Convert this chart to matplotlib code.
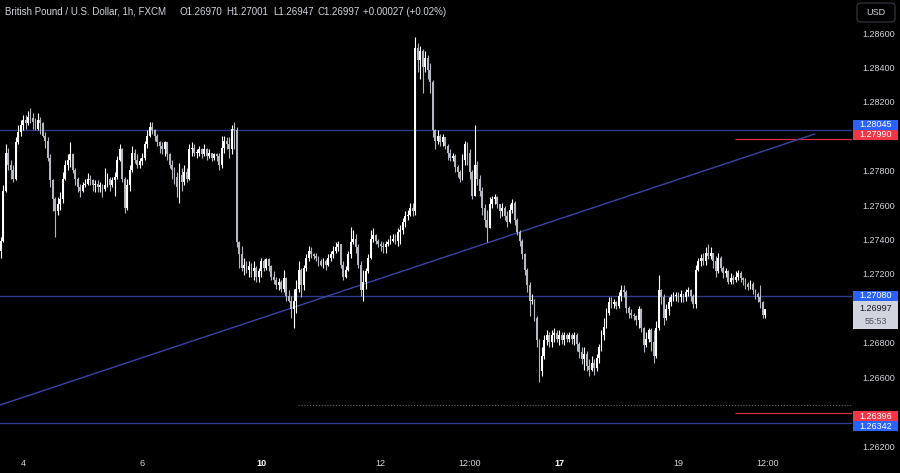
import numpy as np
import matplotlib
matplotlib.use("Agg")
import matplotlib.pyplot as plt
from matplotlib.patches import Rectangle, FancyBboxPatch
from matplotlib.transforms import blended_transform_factory

# ---------------- data (prices in pips above PIP_BASE) ----------------
PIP_BASE = 1.26
first_open_pips = 134
close_pips = [
    140,169,191,184,181,176,197,203,207,210,
    208,212,211,209,205,210,208,201,198,188,
    175,164,157,161,164,176,184,187,190,181,
    176,171,169,172,173,176,175,172,173,171,
    172,170,172,176,172,175,177,187,193,176,
    159,172,181,191,187,184,186,188,196,201,
    206,204,201,197,195,193,197,190,184,181,
    177,171,178,174,180,176,193,194,191,191,
    193,190,193,189,191,188,190,189,184,194,
    198,196,193,205,204,139,132,124,126,123,
    125,122,124,119,122,128,124,129,125,119,
    117,114,116,112,118,108,105,100,105,112,
    123,114,124,130,134,132,131,130,128,126,
    128,126,130,132,134,136,138,126,119,123,
    132,139,141,136,126,111,116,122,130,141,
    143,140,138,137,136,138,139,140,141,140,
    145,146,151,154,155,159,157,252,245,250,
    241,246,239,232,204,198,201,197,200,195,
    191,188,189,183,180,176,187,196,191,180,
    166,184,176,169,159,152,147,161,164,165,
    161,157,159,154,151,158,162,152,145,140,
    132,123,114,105,105,95,82,64,73,82,
    85,81,85,86,83,85,82,85,83,85,
    83,85,80,75,71,74,67,65,69,66,
    72,78,85,90,98,104,103,104,102,108,
    111,110,101,98,97,96,94,100,89,79,
    83,88,81,73,89,111,107,95,100,104,
    107,108,108,107,109,107,110,111,108,103,
    123,128,130,128,133,131,133,128,122,130,
    124,121,122,116,118,117,119,121,118,117,
    115,113,115,111,109,107,104,97,99.97,
]
high_pips = [
    142,172,196,194,187,184,200,207,210,213,
    213,215,217,214,211,214,212,209,203,200,
    190,176,165,165,168,180,187,190,197,191,
    182,177,173,174,176,179,178,176,175,175,
    174,173,182,179,177,177,180,189,196,194,
    177,176,184,195,193,190,188,191,198,204,
    209,209,205,202,198,197,198,197,191,187,
    183,180,185,182,184,182,196,197,196,193,
    195,194,196,194,193,191,191,191,191,201,
    201,200,200,207,209,206,140,137,130,128,
    128,127,128,125,124,130,129,130,130,126,
    122,119,118,117,123,119,111,108,112,117,
    128,124,126,132,137,136,133,133,131,129,
    130,129,132,134,137,139,140,138,128,125,
    134,148,146,144,138,128,123,124,132,146,
    147,144,141,140,139,140,141,143,144,144,
    147,149,153,157,158,162,162,258,255,253,
    251,250,248,243,233,205,204,202,202,200,
    196,193,191,190,184,181,190,198,197,193,
    181,207,186,178,171,161,158,165,166,167,
    166,161,162,160,157,161,164,163,153,146,
    141,133,124,116,109,106,96,83,78,85,
    88,87,88,89,88,88,87,87,86,87,
    86,87,86,81,78,78,76,71,73,71,
    74,80,88,95,101,107,107,106,105,110,
    114,114,111,102,100,98,97,102,101,90,
    87,89,89,88,93,120,112,109,103,107,
    109,110,110,110,111,109,112,113,112,109,
    126,130,132,133,136,138,136,133,131,133,
    131,125,124,123,121,120,122,123,122,119,
    118,116,117,116,112,110,114,105,100.01,
]
low_pips = [
    130,139,168,181,176,174,175,196,201,204,
    205,207,208,205,204,204,202,200,194,186,
    171,157,142,155,158,162,175,181,183,179,
    172,168,165,168,171,172,172,169,168,168,
    168,165,169,171,169,171,166,176,186,174,
    156,158,169,180,185,182,182,184,187,194,
    200,202,198,195,191,190,189,187,182,176,
    173,165,162,169,172,174,175,189,189,188,
    189,188,189,187,188,186,187,186,181,182,
    191,193,188,190,193,136,124,122,120,121,
    119,119,117,116,116,119,122,123,122,117,
    115,112,111,110,110,105,104,95,89,98,
    110,107,111,122,128,130,129,128,125,125,
    124,123,125,128,130,133,134,124,117,118,
    122,130,138,133,124,108,105,112,121,129,
    139,138,136,134,133,133,137,138,139,138,
    137,138,144,148,152,154,154,155,238,234,
    226,238,234,226,200,193,196,195,195,193,
    187,186,186,180,177,174,175,184,184,176,
    164,166,172,166,155,148,139,147,159,161,
    159,153,154,152,148,150,156,149,143,137,
    129,120,110,96,103,93,78,58,61,71,
    79,78,78,81,81,79,80,79,81,81,
    80,79,76,72,68,65,64,61,64,62,
    64,69,76,82,89,97,101,101,100,101,
    105,107,98,95,95,94,91,89,87,75,
    78,81,76,69,72,88,103,91,94,97,
    102,105,105,104,104,104,105,108,105,101,
    101,122,125,126,126,129,129,124,119,121,
    122,118,119,115,115,115,116,117,116,114,
    112,111,112,109,106,104,101,95,94.7,
]

time_tick_index = [9, 57, 105, 153, 189, 225, 273, 309]
time_tick_labels = ["4", "6", "10", "12", "12:00", "17", "19", "12:00"]
time_tick_strong = [False, False, True, False, False, True, False, False]

# price-scale labels that are visible (others are hidden behind level boxes)
price_ticks = [1.286, 1.284, 1.282, 1.278, 1.276, 1.274,
               1.272, 1.268, 1.266, 1.262]

blue_levels = [1.28045, 1.27080, 1.26342]
red_levels = [1.27990, 1.26396]
red_line_start = 295.7
dotted_level = 1.26444
dotted_start = 119.7
trend_x = [-0.28, 327.9]
trend_y = [1.26444, 1.28019]

title_main = "British Pound / U.S. Dollar, 1h, FXCM"
title_parts = ["O1.26970", "H1.27001", "L1.26947", "C1.26997", "+0.00027 (+0.02%)"]
last_price = "1.26997"
countdown = "55:53"

# ---------------- derived arrays ----------------
closes = PIP_BASE + np.array(close_pips) / 1e4
highs = PIP_BASE + np.array(high_pips) / 1e4
lows = PIP_BASE + np.array(low_pips) / 1e4
opens = np.concatenate([[PIP_BASE + first_open_pips / 1e4], closes[:-1]])
highs = np.maximum(highs, np.maximum(opens, closes))
lows = np.minimum(lows, np.minimum(opens, closes))
idx = np.arange(len(closes))

# ---------------- style ----------------
BG = "#000000"
TXT = "#d1d4dc"
UP = "#ffffff"
DOWN = "#b4b7bf"
LINE_BLUE = "#323c8e"
BOX_BLUE = "#2962ff"
BOX_RED = "#f23645"
FONT = "Liberation Sans"

W, H = 900, 473
fig = plt.figure(figsize=(W / 100, H / 100), dpi=100, facecolor=BG)
PLOT_R = 852
PLOT_B = 452
ax = fig.add_axes([0, (H - PLOT_B) / H, PLOT_R / W, PLOT_B / H])
ax.set_facecolor(BG)
for s in ax.spines.values():
    s.set_visible(False)
ax.set_xticks([])
ax.set_yticks([])
ax.set_xlim(-0.28, 342.9)
ax.set_ylim(1.261710, 1.287976)

# levels
for lv in blue_levels:
    ax.axhline(lv, color=LINE_BLUE, lw=1.0, zorder=1)
for lv in red_levels:
    ax.hlines(lv, red_line_start, 342.9, color="#d8303c", lw=0.9, zorder=1)
ax.hlines(dotted_level, dotted_start, 342.9, color="#6a6d78", lw=0.8,
          linestyles=(0, (1, 1.6)), zorder=1)
ax.plot(trend_x, trend_y, color="#3a44a8", lw=1.0, zorder=1)

# candles
up = closes >= opens
cols = np.where(up, UP, DOWN)
ax.vlines(idx, lows, highs, colors=cols, lw=0.8, zorder=3)
body_bot = np.minimum(opens, closes)
body_h = np.maximum(np.abs(closes - opens), 0.00003)
ax.bar(idx, body_h, bottom=body_bot, width=0.74, color=cols, lw=0, zorder=4)

# ---------------- axes text ----------------
fig.canvas.draw()


def py(price):
    """figure-pixel y (from top) of a price"""
    return H - ax.transData.transform((0, price))[1]


def fx(x):
    return x / W


def fy(y):
    return 1 - y / H


# price scale tick labels
for p in price_ticks:
    fig.text(fx(879), fy(py(p)), f"{p:.5f}", color=TXT, fontsize=6.5,
             family=FONT, ha="center", va="center")

# time labels
tb = blended_transform_factory(ax.transData, fig.transFigure)
for i, lab, strong in zip(time_tick_index, time_tick_labels, time_tick_strong):
    ax.text(i, fy(463), lab, transform=tb, color="#ffffff" if strong else TXT,
            fontsize=6.5, family=FONT, ha="center", va="center",
            fontweight="bold" if strong else "normal", clip_on=False)


def box(y_center, text, face, tcolor="#ffffff", h=10):
    fig.patches.append(Rectangle((fx(853), fy(y_center + h / 2)), 45 / W, h / H,
                                 transform=fig.transFigure, facecolor=face,
                                 edgecolor="none", zorder=5))
    fig.text(fx(875.5), fy(y_center), text, color=tcolor, fontsize=6.5,
             family=FONT, ha="center", va="center", zorder=6)


box(py(blue_levels[0]) - 5, f"{blue_levels[0]:.5f}", BOX_BLUE)
box(py(red_levels[0]) - 4, f"{red_levels[0]:.5f}", BOX_RED)
box(py(blue_levels[1]), f"{blue_levels[1]:.5f}", BOX_BLUE)
box(py(red_levels[1]) + 3, f"{red_levels[1]:.5f}", BOX_RED)
box(py(blue_levels[2]) + 3.5, f"{blue_levels[2]:.5f}", BOX_BLUE)

# current price box
y_top = py(blue_levels[1]) + 5
fig.patches.append(Rectangle((fx(853), fy(y_top + 28)), 45 / W, 28 / H,
                             transform=fig.transFigure, facecolor="#d1d4dc",
                             edgecolor="none", zorder=5))
fig.text(fx(875.5), fy(y_top + 7.5), last_price, color="#131722", fontsize=6.5,
         family=FONT, ha="center", va="center", zorder=6)
fig.text(fx(875.5), fy(y_top + 20.5), countdown, color="#50535e", fontsize=6.5,
         family=FONT, ha="center", va="center", zorder=6)

# USD box
fig.patches.append(FancyBboxPatch((fx(857), fy(22)), 38 / W, 19 / H,
                                  boxstyle="round,pad=0,rounding_size=0.006",
                                  transform=fig.transFigure, facecolor=BG,
                                  edgecolor="#363a45", lw=0.8, zorder=5))
fig.text(fx(876), fy(12.5), "USD", color=TXT, fontsize=6.5, family=FONT,
         ha="center", va="center", zorder=6)

# title
fig.text(fx(5), fy(12), title_main, color=TXT, fontsize=7.0, family=FONT,
         ha="left", va="center")
for xpos, part in zip([179, 226, 273, 318, 363], title_parts):
    fig.text(fx(xpos), fy(12), part, color=TXT, fontsize=7.0, family=FONT,
             ha="left", va="center")

fig.savefig("out.png", dpi=100, facecolor=BG)
